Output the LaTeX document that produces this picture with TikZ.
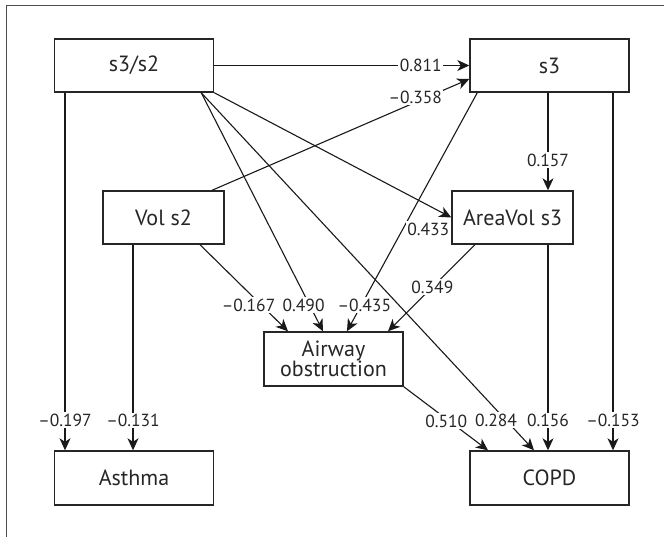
\documentclass[tikz,border=0pt]{standalone}
\usepackage{fontspec}
\setmainfont{PT Sans}
\usetikzlibrary{arrows.meta}

\begin{document}
\begin{tikzpicture}[x=1pt, y=-1pt, line join=miter,
  box/.style={draw=black!85, line width=1.4pt, inner sep=0pt, align=center,
    text=black!85, font=\fontsize{22}{23}\selectfont},
  lbl/.style={fill=white, inner sep=1.5pt, text=black!85, font=\fontsize{17.5}{20}\selectfont},
  arr/.style={draw=black!90, line width=1.1pt, -{Stealth[length=12pt,width=11pt,inset=3.5pt]}}]

\useasboundingbox (0,0) rectangle (664,537);
\draw[black!70, line width=1pt] (664,6) -- (6,6) -- (6,537);

\node[box, minimum width=159, minimum height=53] (s32) at (134,65.5) {s3/s2};
\node[box, minimum width=159, minimum height=53] (s3) at (549.5,65.5) {s3};
\node[box, minimum width=121, minimum height=53] (vol) at (163.5,217.5) {Vol s2};
\node[box, minimum width=121, minimum height=53] (area) at (512.5,217.5) {AreaVol s3};
\node[box, minimum width=139, minimum height=54] (airway) at (333.5,359) {Airway\\[-3pt]obstruction};
\node[box, minimum width=159, minimum height=54] (asthma) at (134,478) {Asthma};
\node[box, minimum width=159, minimum height=54] (copd) at (549.5,478) {COPD};

\draw[arr] (s32.east) -- node[lbl, pos=0.81] {0.811} (s3.west);
\draw[arr] ([xshift=48.5]vol.north) -- node[lbl, pos=0.79, yshift=5] {–0.358} ([yshift=-13.5]s3.west);
\draw[arr] ([xshift=-1.5]s3.south) -- node[lbl, pos=0.69] {0.157} ([xshift=35.5]area.north);

\draw[arr] ([xshift=36.5]vol.south) -- node[lbl, pos=0.7, xshift=-13] {–0.167} ([xshift=-45.5]airway.north);
\draw[arr] ([xshift=-13]s32.south east) -- node[lbl, pos=0.89, xshift=-6] {0.490} ([xshift=-10.5]airway.north);
\draw[arr] ([xshift=8]s3.south west) -- node[lbl, pos=0.89, xshift=3] {–0.435} ([xshift=13.5]airway.north);
\draw[arr] ([xshift=-37.5]area.south) -- node[lbl, pos=0.49] {0.349} ([xshift=54.5]airway.north);
\draw[arr] (s32.south east) -- node[lbl, pos=1, anchor=north east, yshift=-3] {0.433} (area.west);

\draw[arr] ([xshift=-69]s32.south) -- node[lbl, pos=0.916] {–0.197} ([xshift=-69]asthma.north);
\draw[arr] ([xshift=-30.5]vol.south) -- node[lbl, pos=0.855] {–0.131} ([xshift=-1]asthma.north);

\draw[arr] (airway.south east) -- node[lbl, pos=0.54, xshift=-3] {0.510} ([xshift=-61.5]copd.north);
\draw[arr] ([xshift=-13]s32.south east) -- node[lbl, pos=0.916, xshift=-10] {0.284} ([xshift=-15.5]copd.north);
\draw[arr] ([xshift=35.5]area.south) -- node[lbl, pos=0.855] {0.156} ([xshift=-1.5]copd.north);
\draw[arr] ([xshift=63.5]s3.south) -- node[lbl, pos=0.916] {–0.153} ([xshift=63.5]copd.north);

\end{tikzpicture}
\end{document}
